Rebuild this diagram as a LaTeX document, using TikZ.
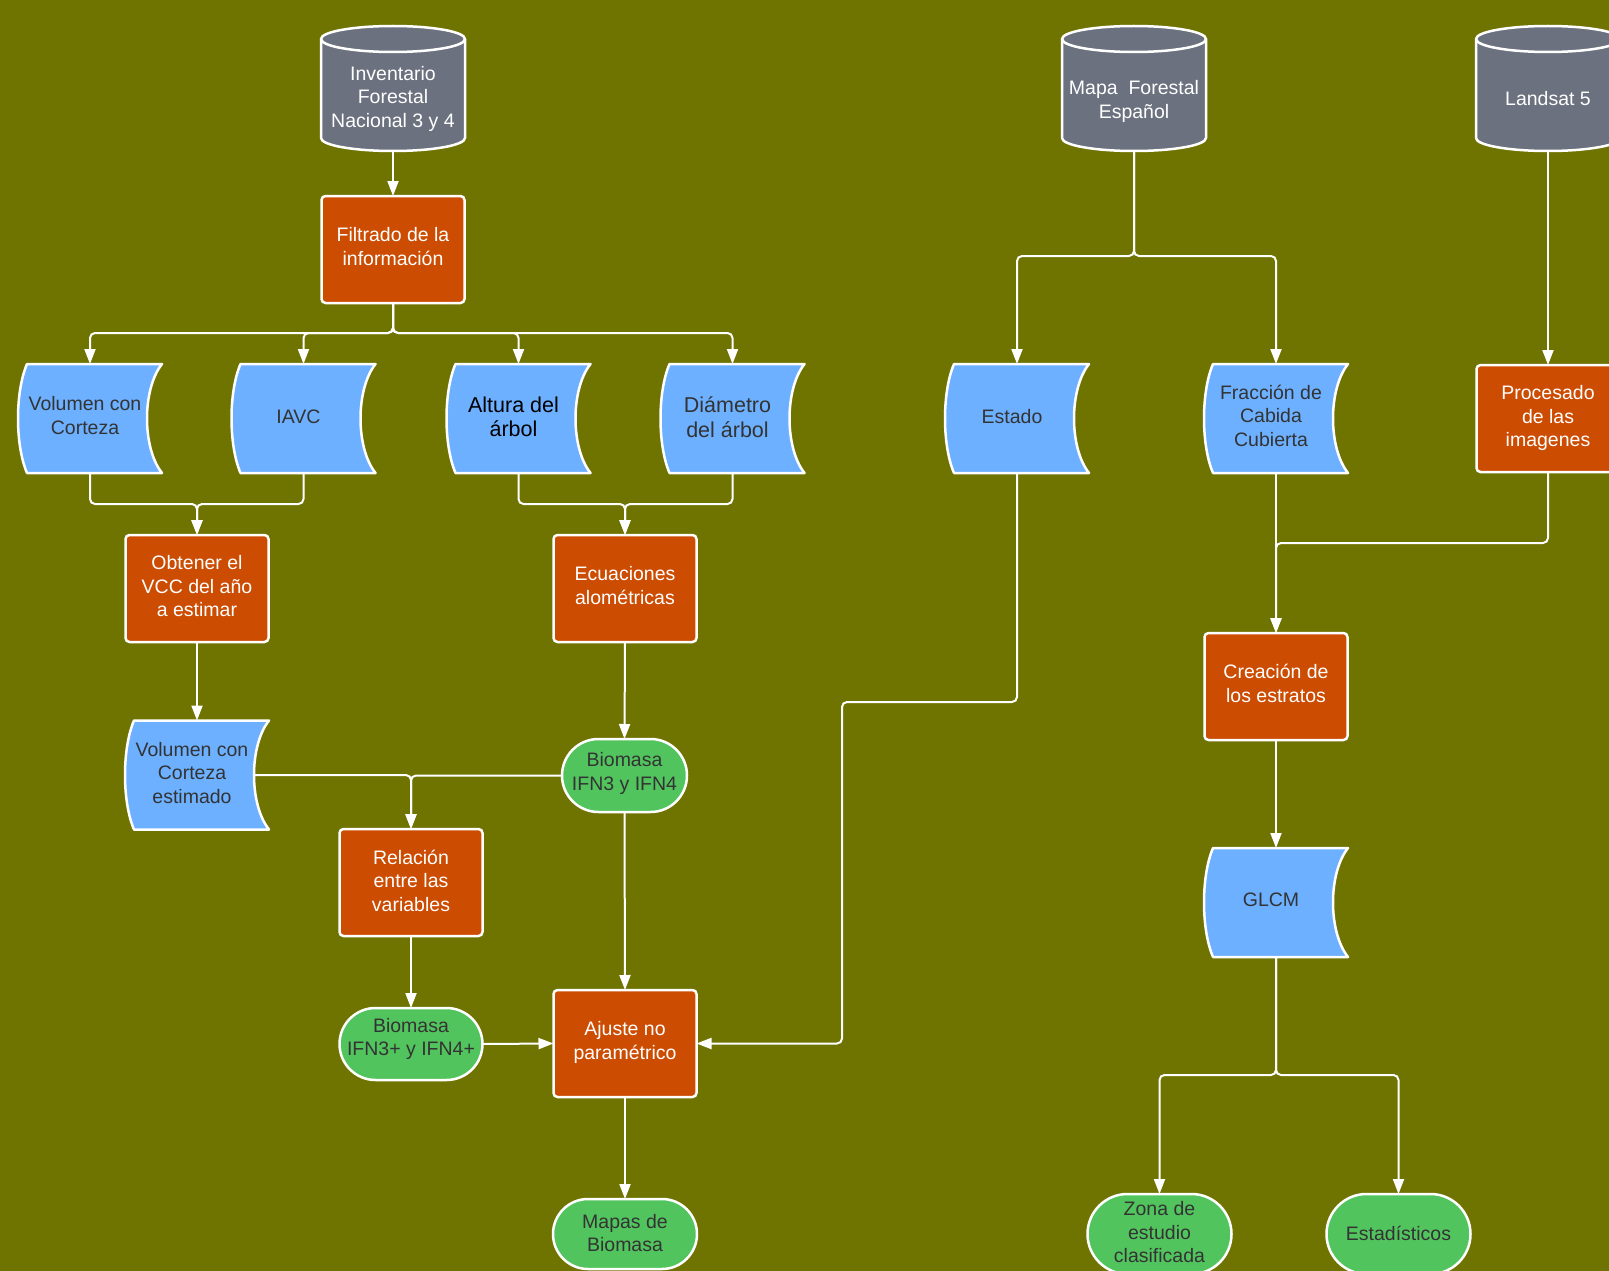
\documentclass[tikz,border=0pt]{standalone}
\usepackage{fontspec}
\setmainfont{Liberation Sans}
\usetikzlibrary{arrows.meta,calc,shapes.misc}
\definecolor{bgolive}{HTML}{6F7300}
\definecolor{dbgray}{HTML}{6B717E}
\definecolor{procor}{HTML}{CC4C02}
\definecolor{docblue}{HTML}{6CB0FF}
\definecolor{termgreen}{HTML}{52C45E}
\definecolor{darktxt}{HTML}{333333}
\newcommand\fs{\fontsize{19.5pt}{23.5pt}\selectfont}
\newcommand\fbig{\fontsize{21.5pt}{24.5pt}\selectfont}
\tikzset{
 shapebox/.style={draw=none,inner sep=0pt,outer sep=0pt,rectangle},
 outl/.style={draw=white,line width=2.5pt,line join=round},
 procbox/.style={rectangle,outl,fill=procor,rounded corners=4pt,inner sep=0pt,outer sep=0pt,
   minimum width=143pt,minimum height=107pt},
 termbox/.style={rounded rectangle,outl,fill=termgreen,inner sep=0pt,outer sep=0pt,
   minimum width=143pt,minimum height=72pt},
 ttext/.style={align=center,font=\fs,inner sep=0pt},
 wtext/.style={ttext,text=white},
 dtext/.style={ttext,text=darktxt},
 conn/.style={draw=white,line width=2pt,rounded corners=5pt,-{Triangle[length=15pt,width=11pt]}},
}
\newcommand\docshape[5]{%
  \node[shapebox,minimum width=144pt,minimum height=109pt] (#1) at (#2,#3) {};
  \draw[outl,fill=docblue] ([xshift=9pt]#1.north west) -- (#1.north east)
     .. controls +(-20,-25) and +(-20,25) .. (#1.south east)
     -- ([xshift=9pt]#1.south west)
     .. controls +(-12,28) and +(-12,-28) .. ([xshift=9pt]#1.north west) -- cycle;
  \node[ttext,#4] (#1-t) at ([xshift=-5pt]#1.center) {#5};
}
\newcommand\dbshape[5]{%
  \node[shapebox,minimum width=144pt,minimum height=125pt] (#1) at (#2,#3) {};
  \draw[outl,fill=dbgray] ([yshift=-13pt]#1.north west) -- ([yshift=13pt]#1.south west)
     arc[start angle=180,end angle=360,x radius=72pt,y radius=13pt]
     -- ([yshift=-13pt]#1.north east)
     arc[start angle=0,end angle=180,x radius=72pt,y radius=13pt] -- cycle;
  \draw[outl] ([yshift=-13pt]#1.north west) arc[start angle=180,end angle=360,x radius=72pt,y radius=13pt];
  \node[wtext] (#1-t) at ([yshift=#4]#1.center) {#5};
}
\begin{document}
\begin{tikzpicture}[x=1pt,y=1pt]
\clip (0,0) rectangle (1609,-1271);
\fill[bgolive] (0,0) rectangle (1609,-1271);

% databases
\dbshape{inv}{393}{-88.5}{-10pt}{Inventario\\Forestal\\Nacional 3 y 4}
\dbshape{mfe}{1134}{-88.5}{-13pt}{Mapa\ \ Forestal\\Español}
\dbshape{land}{1548}{-88.5}{-10pt}{Landsat 5}

% processes
\node[procbox] (filt) at (393,-249.5) {};
\node[wtext] (filt-t) at ([yshift=3pt]filt.center) {Filtrado de la\\información};
\node[procbox] (obt) at (197,-588.5) {};
\node[wtext] (obt-t) at ([yshift=2pt]obt.center) {Obtener el\\VCC del año\\a estimar};
\node[procbox] (ecu) at (625,-588.5) {};
\node[wtext] (ecu-t) at ([yshift=3pt]ecu.center) {Ecuaciones\\alométricas};
\node[procbox] (rel) at (411,-882.5) {};
\node[wtext] (rel-t) at ([yshift=2pt]rel.center) {Relación\\entre las\\variables};
\node[procbox] (aju) at (625,-1043.5) {};
\node[wtext] (aju-t) at ([yshift=1pt]aju.center) {Ajuste no\\paramétrico};
\node[procbox] (proc) at (1548,-418.5) {};
\node[wtext] (proc-t) at ([yshift=0.5pt]proc.center) {Procesado\\de las\\imagenes};
\node[procbox] (crea) at (1276,-686.5) {};
\node[wtext] (crea-t) at ([yshift=3pt]crea.center) {Creación de\\los estratos};

% stored data
\docshape{vol}{90}{-418.5}{text=darktxt,yshift=3pt}{Volumen con\\Corteza}
\docshape{iavc}{303.5}{-418.5}{text=darktxt,yshift=2pt}{IAVC}
\docshape{alt}{518.5}{-418.5}{text=black,font=\fbig,yshift=1.5pt}{Altura del\\árbol}
\docshape{dia}{732.5}{-418.5}{text=darktxt,font=\fbig,yshift=1.5pt}{Diámetro\\del árbol}
\docshape{est}{1017}{-418.5}{text=darktxt,yshift=2pt}{Estado}
\docshape{fcc}{1276}{-418.5}{text=darktxt,yshift=3pt}{Fracción de\\Cabida\\Cubierta}
\docshape{vole}{197}{-775}{text=darktxt,yshift=2pt}{Volumen con\\Corteza\\estimado}
\docshape{glcm}{1276}{-902.5}{text=darktxt,yshift=3pt}{GLCM}

% terminals
\node[termbox,minimum width=125pt,minimum height=73pt] (bio) at (624.5,-775.5) {};
\node[dtext] (bio-t) at ([yshift=2pt]bio.center) {Biomasa\\IFN3 y IFN4};
\node[termbox] (biop) at (411,-1044) {};
\node[dtext] (biop-t) at ([yshift=5pt]biop.center) {Biomasa\\IFN3+ y IFN4+};
\node[termbox,minimum width=144pt,minimum height=70pt] (map) at (625,-1234) {};
\node[dtext] (map-t) at ([yshift=1pt]map.center) {Mapas de\\Biomasa};
\node[termbox,minimum width=144pt,minimum height=80pt] (zona) at (1159.5,-1234) {};
\node[dtext] (zona-t) at ([yshift=1.5pt]zona.center) {Zona de\\estudio\\clasificada};
\node[termbox,minimum width=144pt,minimum height=80pt] (estad) at (1398.5,-1234) {};
\node[dtext] (estad-t) at ([yshift=1pt]estad.center) {Estadísticos};

% connectors
\draw[conn] (inv.south) -- (filt.north);
\draw[conn] (filt.south) -- ++(0,-30) -| (vol.north);
\draw[conn] (filt.south) -- ++(0,-30) -| (iavc.north);
\draw[conn] (filt.south) -- ++(0,-30) -| (alt.north);
\draw[conn] (filt.south) -- ++(0,-30) -| (dia.north);
\draw[conn] (vol.south) -- ++(0,-31) -| (obt.north);
\draw[conn] (iavc.south) -- ++(0,-31) -| (obt.north);
\draw[conn] (alt.south) -- ++(0,-31) -| (ecu.north);
\draw[conn] (dia.south) -- ++(0,-31) -| (ecu.north);
\draw[conn] (obt.south) -- (vole.north);
\draw[conn] (ecu.south) -- (bio.north);
\draw[conn] ([xshift=-15pt]vole.east) -| (rel.north);
\draw[conn] (bio.west) -| (rel.north);
\draw[conn] (bio.south) -- (aju.north);
\draw[conn] (rel.south) -- (biop.north);
\draw[conn] (biop.east) -- (aju.west);
\draw[conn] (aju.south) -- (map.north);
\draw[conn] (est.south) -- ++(0,-229) -- ++(-175,0) |- (aju.east);
\draw[conn] (mfe.south) -- ++(0,-105) -| (est.north);
\draw[conn] (mfe.south) -- ++(0,-105) -| (fcc.north);
\draw[conn] (land.south) -- (proc.north);
\draw[conn] (proc.south) -- ++(0,-71) -| (crea.north);
\draw[conn] (fcc.south) -- (crea.north);
\draw[conn] (crea.south) -- (glcm.north);
\draw[conn] (glcm.south) -- ++(0,-118) -| (zona.north);
\draw[conn] (glcm.south) -- ++(0,-118) -| (estad.north);
\end{tikzpicture}
\end{document}
